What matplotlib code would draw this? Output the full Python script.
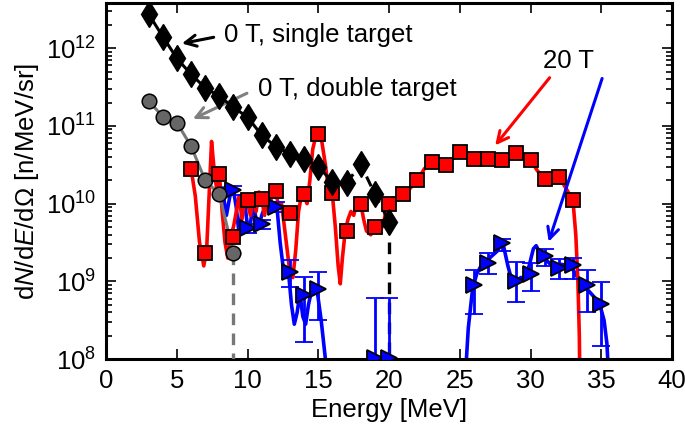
import numpy as np
import matplotlib
matplotlib.use('Agg')
import matplotlib.pyplot as plt

plt.rcParams['font.family'] = 'Liberation Sans'
plt.rcParams['mathtext.fontset'] = 'custom'
plt.rcParams['mathtext.rm'] = 'Liberation Sans'
plt.rcParams['mathtext.it'] = 'Liberation Sans:italic'
plt.rcParams['font.size'] = 18.5

# 0 T, single target (black diamonds)
e_single = [3, 4, 5, 6, 7, 8, 9, 10, 11, 12, 13, 14, 15, 16, 17, 18, 19, 20]
n_single = [2.75e12, 1.41e12, 7.4e11, 4.6e11, 3.1e11, 2.4e11, 1.74e11, 1.29e11, 7.6e10,
            5.4e10, 4.4e10, 3.8e10, 3.0e10, 1.9e10, 1.86e10, 3.2e10, 1.32e10, 5.9e9]

# 0 T, double target (grey circles)
e_double = [3, 4, 5, 6, 7, 8, 9]
n_double = [2.1e11, 1.32e11, 1.1e11, 5.5e10, 2.0e10, 1.32e10, 2.3e9]

# 20 T, binned (red squares)
e_20T = list(range(6, 34))
n_20T = [2.8e10, 2.3e9, 2.4e10, 3.7e9, 1.1e10, 1.15e10, 1.45e10, 7.6e9, 1.35e10, 7.9e10,
         1.38e10, 4.4e9, 9.8e9, 5.0e9, 1.0e10, 1.32e10, 2.0e10, 3.4e10, 3.1e10, 4.6e10,
         3.8e10, 3.8e10, 3.7e10, 4.5e10, 3.6e10, 2.1e10, 2.2e10, 1.1e10]

# 20 T, second detector (blue triangles) with error bar ends
e_20T_b = [9, 10, 11, 12, 13, 14, 15, 19, 20, 26, 27, 28, 29, 30, 31, 32, 33, 34, 35]
n_20T_b = [1.48e10, 4.8e9, 5.4e9, 9.1e9, 1.32e9, 6.6e8, 8.1e8, 1.05e8, 1.05e8, 8.9e8,
           1.74e9, 3.1e9, 1.02e9, 1.26e9, 2.1e9, 1.51e9, 1.62e9, 8.9e8, 5.1e8]
hi_20T_b = [1.7e10, 5.5e9, 6.2e9, 1.05e10, 1.86e9, 1.15e9, 1.32e9, 6.2e8, 6.2e8, 1.41e9,
            2.3e9, 3.5e9, 1.78e9, 1.74e9, 2.6e9, 1.95e9, 2.0e9, 1.41e9, 9.8e8]
lo_20T_b = [1.29e10, 4.2e9, 4.7e9, 7.9e9, 8.5e8, 1.66e8, 3.2e8, 1e7, 1e7, 3.8e8,
            1.26e9, 2.5e9, 5.4e8, 7.6e8, 1.58e9, 1.07e9, 1.07e9, 4.0e8, 1.5e8]

# unfolded spectra (lines), energy and log10 of yield
red_x = [5.6, 6.0, 6.3, 6.6, 6.9, 7.1, 7.3, 7.45, 7.6, 7.8, 8.0, 8.2, 8.4, 8.6, 8.8, 9.0,
         9.2, 9.4, 9.6, 9.8, 10.0, 10.2, 10.4, 10.6, 10.8, 11.0, 11.2, 11.4, 11.6, 11.8,
         12.0, 12.2, 12.4, 12.6, 12.8, 13.0, 13.2, 13.4, 13.6, 13.8, 14.0, 14.2, 14.4,
         14.6, 14.8, 15.0, 15.2, 15.5, 15.7, 16.0, 16.2, 16.4, 16.55, 16.7, 16.9, 17.1,
         17.3, 17.5, 17.7, 18.0, 18.2, 18.4, 18.7, 19.0, 19.3, 19.6, 19.8, 20.0, 20.5,
         21.0, 21.5, 22.0, 22.5, 23.0, 23.5, 24.0, 24.5, 25.0, 25.5, 26.0, 27.0, 28.0,
         28.5, 29.0, 29.5, 30.0, 30.5, 31.0, 31.5, 32.0, 32.5, 33.0, 33.2, 33.35, 33.45, 33.5]
red_logy = [10.45, 10.45, 10.1, 9.5, 9.2, 9.4, 10.2, 10.8, 10.5, 10.2, 10.38, 9.9, 9.5,
            9.3, 9.6, 9.7, 9.9, 10.1, 9.8, 10.05, 10.0, 9.85, 10.1, 9.9, 10.15, 10.05,
            9.85, 10.1, 10.0, 10.2, 10.15, 9.95, 10.0, 9.7, 9.4, 9.1, 9.05, 9.4, 9.9,
            10.1, 10.1, 10.0, 10.3, 10.7, 10.85, 10.9, 10.85, 10.5, 10.2, 10.1, 9.7, 9.2,
            8.97, 9.3, 9.65, 9.8, 9.9, 9.85, 10.0, 10.0, 9.8, 9.65, 9.6, 9.68, 9.65, 9.72,
            9.95, 10.0, 10.05, 10.12, 10.2, 10.3, 10.45, 10.53, 10.52, 10.5, 10.58, 10.65,
            10.62, 10.58, 10.58, 10.57, 10.62, 10.64, 10.6, 10.56, 10.42, 10.33, 10.33,
            10.35, 10.2, 10.04, 9.6, 9.0, 8.3, 7.5]

blue_x1 = [8.2, 8.5, 8.75, 9.0, 9.2, 9.4, 9.6, 9.8, 10.0, 10.2, 10.4, 10.6, 10.8, 11.0,
           11.3, 11.6, 11.9, 12.1, 12.3, 12.5, 12.7, 12.9, 13.1, 13.3, 13.5, 13.7, 13.9,
           14.1, 14.3, 14.6, 14.9, 15.2, 15.5, 15.7]
blue_logy1 = [10.2, 9.85, 10.1, 10.17, 9.95, 9.6, 9.9, 10.0, 9.7, 9.75, 10.0, 9.8, 9.72,
              9.85, 10.0, 10.0, 9.96, 9.9, 9.5, 9.2, 9.05, 9.1, 8.7, 8.45, 8.6, 8.85, 8.55,
              8.45, 8.7, 8.95, 8.9, 8.5, 8.0, 7.5]
blue_x2 = [25.3, 25.6, 25.9, 26.2, 26.5, 26.8, 27.1, 27.4, 27.7, 27.9, 28.1, 28.4, 28.7,
           29.0, 29.3, 29.6, 29.9, 30.2, 30.4, 30.7, 31.0, 31.4, 31.8, 32.2, 32.6, 33.0,
           33.5, 34.0, 34.5, 34.9, 35.2, 35.4, 35.6]
blue_logy2 = [7.5, 8.4, 8.9, 9.1, 9.2, 9.25, 9.3, 9.35, 9.4, 9.5, 9.45, 9.2, 9.0, 9.0,
              9.05, 9.05, 9.2, 9.42, 9.46, 9.35, 9.3, 9.22, 9.2, 9.22, 9.2, 9.15, 9.0, 8.9,
              8.8, 8.7, 8.5, 8.2, 7.5]

fig = plt.figure(figsize=(6.85, 4.37), dpi=100)
ax = fig.add_axes([0.155, 0.178, 0.826, 0.815])

red = '#ff0000'
blue = '#0000ff'
grey = '#666666'

# lines
ax.plot(blue_x1, 10 ** np.array(blue_logy1), color=blue, lw=2.6, zorder=2)
ax.plot(blue_x2, 10 ** np.array(blue_logy2), color=blue, lw=2.6, zorder=2)
ax.plot(red_x, 10 ** np.array(red_logy), color=red, lw=2.6, zorder=2)

ax.plot(e_double, n_double, color='#777777', lw=2.2, zorder=3)
ax.plot([9, 9], [n_double[-1], 1e7], color='#777777', lw=2.4, ls=(0, (3.5, 2.5)), zorder=3)

ax.plot(e_single[:15], n_single[:15], color='k', lw=2.2, zorder=4)
ax.plot(e_single[14:], n_single[14:], color='k', lw=2.2, ls=(0, (3.5, 2.5)), zorder=4)
ax.plot([20, 20], [n_single[-1], 1e7], color='k', lw=2.4, ls=(0, (3.5, 2.5)), zorder=4)

# markers with error bars
n_b = np.array(n_20T_b)
ax.errorbar(e_20T_b, n_b, yerr=[n_b - np.array(lo_20T_b), np.array(hi_20T_b) - n_b],
            fmt='>', color=blue, mfc=blue, mec='k', mew=1.3, ms=11, elinewidth=2,
            capsize=6.5, capthick=2, zorder=5)
ax.errorbar(e_double, n_double, xerr=0.5, fmt='o', color=grey, mfc=grey, mec='k', mew=1.1,
            ms=10.5, elinewidth=1, zorder=5)
ax.errorbar(e_20T, n_20T, xerr=0.5, fmt='s', color=red, mfc=red, mec='k', mew=1.3,
            ms=10.5, elinewidth=1.2, zorder=6)
ax.errorbar(e_single, n_single, xerr=0.5, fmt='d', color='k', mfc='k', mec='k',
            ms=13, elinewidth=1.2, zorder=7)

# annotations
ax.annotate('', xy=(5.35, 10 ** 12.06), xytext=(7.6, 10 ** 12.14),
            arrowprops=dict(arrowstyle='->', color='k', lw=2.2, mutation_scale=20,
                            shrinkA=0, shrinkB=0))
ax.text(8.3, 10 ** 12.17, '0 T, single target', va='center', ha='left')
ax.annotate('', xy=(6.13, 10 ** 11.09), xytext=(9.95, 10 ** 11.42),
            arrowprops=dict(arrowstyle='->', color='#808080', lw=2.2, mutation_scale=20,
                            shrinkA=0, shrinkB=0))
ax.text(10.7, 10 ** 11.47, '0 T, double target', va='center', ha='left')
ax.annotate('', xy=(27.5, 10 ** 10.75), xytext=(31.35, 10 ** 11.62),
            arrowprops=dict(arrowstyle='->', color=red, lw=2.2, mutation_scale=20,
                            shrinkA=0, shrinkB=0))
ax.annotate('', xy=(31.28, 10 ** 9.51), xytext=(35.06, 10 ** 11.61),
            arrowprops=dict(arrowstyle='->', color=blue, lw=2.2, mutation_scale=20,
                            shrinkA=0, shrinkB=0))
ax.text(30.9, 10 ** 11.84, '20 T', va='center', ha='left')

ax.set_yscale('log')
ax.set_xlim(0, 40)
ax.set_ylim(1e8, 10 ** 12.58)
ax.set_xticks([0, 5, 10, 15, 20, 25, 30, 35, 40])
ax.set_xlabel('Energy [MeV]')
ax.set_ylabel('d$N$/d$E$/dΩ [n/MeV/sr]')

ax.tick_params(which='both', direction='in', top=True, right=True, width=1.2)
ax.tick_params(which='major', length=7, pad=7)
ax.tick_params(which='minor', length=4)
for s in ax.spines.values():
    s.set_linewidth(2.2)

fig.savefig('out.png', dpi=100)
